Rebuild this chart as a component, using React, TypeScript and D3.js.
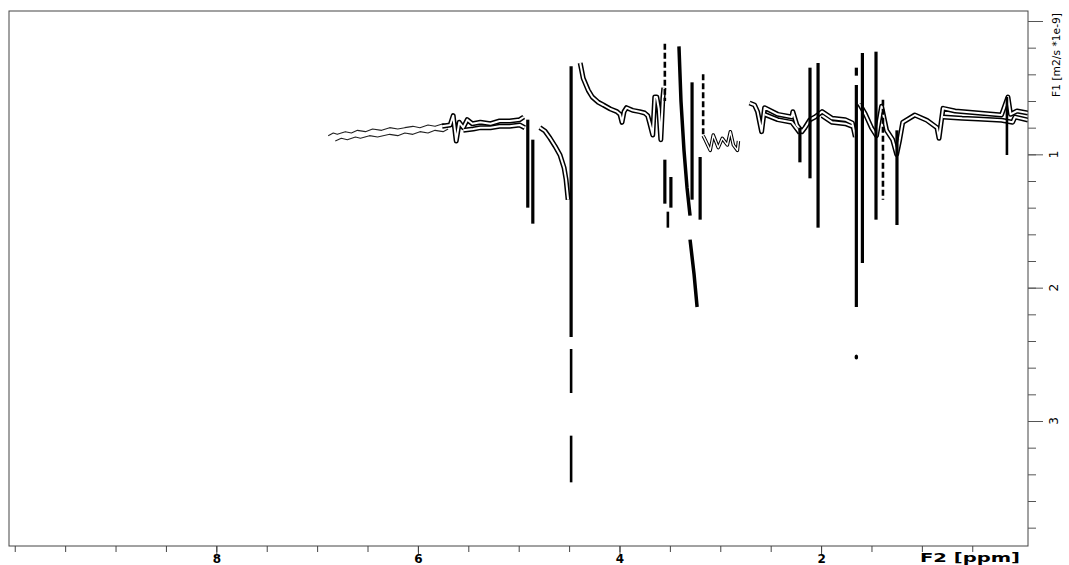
import React, { useRef, useEffect } from "react";
import * as d3 from "d3";

type Pt = [number, number];
type Streak = [number, number, number]; // ppm, D from, D to

// axis ticks
const xMajorTicks = [8, 6, 4, 2];
const yMajorTicks = [1, 2, 3];
const xTitle = "F2 [ppm]";
const yTitle = "F1 [m2/s *1e-9]";

// weak noisy contours on the left (ppm, D)
const faintUpper: Pt[] = [[6.89, 0.86], [6.84, 0.84], [6.80, 0.85], [6.72, 0.83], [6.66, 0.84], [6.60, 0.82], [6.52, 0.83], [6.45, 0.81], [6.36, 0.82], [6.28, 0.80], [6.20, 0.81], [6.13, 0.80], [6.05, 0.79], [5.98, 0.80], [5.90, 0.78], [5.83, 0.79], [5.75, 0.77], [5.70, 0.78]];
const faintLower: Pt[] = [[6.82, 0.90], [6.76, 0.88], [6.70, 0.89], [6.62, 0.87], [6.57, 0.88], [6.48, 0.86], [6.40, 0.87], [6.28, 0.85], [6.20, 0.86], [6.13, 0.84], [6.05, 0.85], [5.98, 0.83], [5.90, 0.84], [5.83, 0.82], [5.75, 0.83], [5.70, 0.81]];

// main ridge contours
const ridgeA: Pt[] = [[5.76, 0.79], [5.68, 0.78], [5.65, 0.71], [5.62, 0.90], [5.59, 0.76], [5.55, 0.80], [5.51, 0.74], [5.46, 0.77], [5.38, 0.76], [5.28, 0.77], [5.19, 0.75], [5.09, 0.75], [4.99, 0.74], [4.95, 0.72]];
const ridgeA2: Pt[] = [[5.55, 0.82], [5.45, 0.81], [5.38, 0.80], [5.28, 0.80], [5.19, 0.79], [5.09, 0.79], [4.99, 0.78], [4.94, 0.80]];
const curveB: Pt[] = [[4.79, 0.80], [4.74, 0.825], [4.69, 0.878], [4.64, 0.938], [4.59, 1.005], [4.55, 1.10], [4.53, 1.19], [4.51, 1.34]];
const curveC: Pt[] = [[4.39, 0.315], [4.36, 0.43], [4.31, 0.52], [4.27, 0.57], [4.21, 0.61], [4.16, 0.63], [4.09, 0.66], [4.025, 0.68], [3.995, 0.70], [3.975, 0.76], [3.955, 0.68], [3.93, 0.65], [3.87, 0.67], [3.80, 0.68], [3.75, 0.69], [3.72, 0.71], [3.70, 0.765], [3.67, 0.855], [3.65, 0.57], [3.63, 0.57], [3.61, 0.66], [3.59, 0.89], [3.57, 0.58], [3.56, 0.50]];
const noiseC: Pt[] = [[3.17, 0.86], [3.15, 0.89], [3.10, 0.97], [3.07, 0.855], [3.02, 0.95], [2.98, 0.88], [2.93, 0.93], [2.90, 0.83], [2.87, 0.93], [2.83, 0.97], [2.82, 0.90]];
const ridgeD: Pt[] = [[2.71, 0.615], [2.66, 0.63], [2.63, 0.68], [2.59, 0.83], [2.56, 0.65], [2.43, 0.70], [2.29, 0.72], [2.28, 0.68], [2.24, 0.78], [2.19, 0.83], [2.16, 0.80], [2.11, 0.74], [2.06, 0.72], [1.99, 0.68], [1.89, 0.73], [1.76, 0.74], [1.69, 0.765], [1.66, 0.87]];
const ridgeD2: Pt[] = [[2.56, 0.70], [2.43, 0.74], [2.29, 0.76], [2.21, 0.84]];
const ridgeD3: Pt[] = [[1.99, 0.71], [1.89, 0.76], [1.76, 0.77], [1.69, 0.79]];
const ridgeE: Pt[] = [[1.62, 0.62], [1.56, 0.70], [1.50, 0.80], [1.45, 0.86], [1.40, 0.64], [1.35, 0.82], [1.29, 0.89], [1.25, 1.0], [1.22, 0.89], [1.19, 0.76], [1.07, 0.705], [0.95, 0.745], [0.85, 0.80], [0.83, 0.88], [0.79, 0.655], [0.67, 0.675], [0.44, 0.69], [0.21, 0.705], [0.146, 0.57], [0.12, 0.70], [0.056, 0.675], [-0.053, 0.69]];
const ridgeE2: Pt[] = [[0.79, 0.72], [0.60, 0.73], [0.44, 0.735], [0.21, 0.745], [0.10, 0.76], [0.076, 0.72], [-0.053, 0.743]];

// slanted strong streaks
const slantA: Pt[] = [[3.41, 0.19], [3.39, 0.60], [3.36, 0.97], [3.33, 1.25], [3.30, 1.46]];
const slantB: Pt[] = [[3.30, 1.64], [3.26, 1.90], [3.23, 2.145]];

// vertical streaks
const heavyStreaks: Streak[] = [
  [4.91, 0.74, 1.40], [4.86, 0.89, 1.52], [4.48, 0.34, 2.37],
  [3.55, 1.04, 1.37], [3.49, 1.17, 1.40], [3.28, 0.46, 1.34], [3.20, 1.02, 1.49],
  [2.21, 0.80, 1.06], [2.11, 0.35, 1.18], [2.03, 0.315, 1.55],
  [1.65, 0.35, 0.41], [1.65, 0.48, 2.145], [1.59, 0.24, 1.815], [1.455, 0.23, 1.49],
  [1.247, 0.82, 1.53],
];
const thinStreaks: Streak[] = [[4.48, 2.46, 2.79], [4.48, 3.11, 3.46], [3.52, 1.43, 1.55], [0.156, 0.57, 1.005]];
const dashedStreaks: Streak[] = [[3.55, 0.17, 0.60], [3.17, 0.40, 0.86], [1.386, 0.59, 1.34]];
const dots: Pt[] = [[1.65, 2.52]];

const contourLines = [ridgeA, ridgeA2, curveB, curveC, ridgeD, ridgeD2, ridgeD3, ridgeE, ridgeE2];

export default function App() {
  const svgRef = useRef<SVGSVGElement>(null);

  useEffect(() => {
    const svg = d3.select(svgRef.current);
    svg.selectAll("*").remove();

    const left = 9, right = 1028, top = 11, bottom = 546;
    const x = d3.scaleLinear().domain([10.057, -0.053]).range([left, right]);
    const y = d3.scaleLinear().domain([-0.075, 3.9375]).range([top, bottom]);
    const line = d3.line<Pt>().x(d => x(d[0])).y(d => y(d[1]));

    svg.append("defs").append("clipPath").attr("id", "plotclip")
      .append("rect").attr("x", left).attr("y", top).attr("width", right - left).attr("height", bottom - top);

    const g = svg.append("g").attr("clip-path", "url(#plotclip)");

    // faint contours
    [faintUpper, faintLower].forEach(l => {
      g.append("path").attr("d", line(l)).attr("fill", "none")
        .attr("stroke", "#222").attr("stroke-width", 1.1).attr("stroke-linejoin", "round");
    });
    g.append("path").attr("d", line(noiseC)).attr("fill", "none")
      .attr("stroke", "#000").attr("stroke-width", 3.5).attr("stroke-linejoin", "round");
    g.append("path").attr("d", line(noiseC)).attr("fill", "none")
      .attr("stroke", "#fff").attr("stroke-width", 1.4).attr("stroke-linejoin", "round");

    // outlined contour rings: black body with white core
    contourLines.forEach(l => {
      g.append("path").attr("d", line(l)).attr("fill", "none")
        .attr("stroke", "#000").attr("stroke-width", 5).attr("stroke-linejoin", "round");
    });
    contourLines.forEach(l => {
      g.append("path").attr("d", line(l)).attr("fill", "none")
        .attr("stroke", "#fff").attr("stroke-width", 2).attr("stroke-linejoin", "round");
    });

    // strong streaks
    [slantA, slantB].forEach(l => {
      g.append("path").attr("d", line(l)).attr("fill", "none")
        .attr("stroke", "#000").attr("stroke-width", 3.5);
    });
    g.selectAll(".heavy").data(heavyStreaks).enter().append("line")
      .attr("x1", d => x(d[0])).attr("x2", d => x(d[0]))
      .attr("y1", d => y(d[1])).attr("y2", d => y(d[2]))
      .attr("stroke", "#000").attr("stroke-width", 3.2);
    g.selectAll(".thin").data(thinStreaks).enter().append("line")
      .attr("x1", d => x(d[0])).attr("x2", d => x(d[0]))
      .attr("y1", d => y(d[1])).attr("y2", d => y(d[2]))
      .attr("stroke", "#000").attr("stroke-width", 2.6);
    g.selectAll(".dashed").data(dashedStreaks).enter().append("line")
      .attr("x1", d => x(d[0])).attr("x2", d => x(d[0]))
      .attr("y1", d => y(d[1])).attr("y2", d => y(d[2]))
      .attr("stroke", "#000").attr("stroke-width", 2.6).attr("stroke-dasharray", "6 3");
    g.selectAll(".dot").data(dots).enter().append("ellipse")
      .attr("cx", d => x(d[0])).attr("cy", d => y(d[1])).attr("rx", 1.8).attr("ry", 2.5).attr("fill", "#000");

    // frame
    svg.append("rect").attr("x", left).attr("y", top).attr("width", right - left).attr("height", bottom - top)
      .attr("fill", "none").attr("stroke", "#444").attr("stroke-width", 1);

    // x axis
    const xMinor = d3.axisBottom(x).tickValues(d3.range(10, 0.25, -0.5)).tickSize(6).tickFormat(() => "");
    const xMajor = d3.axisBottom(x).tickValues(xMajorTicks).tickSize(8).tickPadding(0).tickFormat(d3.format("d"));
    [xMinor, xMajor].forEach(ax => {
      const a = svg.append("g").attr("transform", `translate(0,${bottom})`).call(ax as any);
      a.select(".domain").remove();
      a.selectAll("line").attr("stroke", "#444");
      a.selectAll("text").attr("font-family", "DejaVu Sans, sans-serif").attr("font-weight", "bold")
        .attr("font-size", 12).attr("fill", "#000");
    });
    svg.append("text").attr("x", 970).attr("y", 562).attr("text-anchor", "middle")
      .attr("font-family", "DejaVu Sans, sans-serif").attr("font-weight", "bold").attr("font-size", 12.5)
      .attr("textLength", 100).attr("lengthAdjust", "spacingAndGlyphs").text(xTitle);

    // y axis on the right
    const yMinor = d3.axisRight(y).tickValues(d3.range(0, 3.81, 0.2)).tickSize(8).tickFormat(() => "");
    const yMajor = d3.axisRight(y).tickValues([0, ...yMajorTicks]).tickSize(15).tickFormat(() => "");
    [yMinor, yMajor].forEach(ax => {
      const a = svg.append("g").attr("transform", `translate(${right},0)`).call(ax as any);
      a.select(".domain").remove();
      a.selectAll("line").attr("stroke", "#555");
    });
    svg.selectAll(".ylab").data(yMajorTicks).enter().append("text")
      .attr("transform", d => `translate(1058,${y(d)}) rotate(-90)`)
      .attr("text-anchor", "middle")
      .attr("font-family", "DejaVu Sans, sans-serif").attr("font-size", 12).attr("fill", "#000")
      .text(d => String(d));
    svg.append("text").attr("transform", "translate(1060,55) rotate(-90)").attr("text-anchor", "middle")
      .attr("font-family", "DejaVu Sans, sans-serif").attr("font-size", 11)
      .attr("textLength", 84).attr("lengthAdjust", "spacingAndGlyphs").text(yTitle);
  }, []);

  return (
    <svg ref={svgRef} width={1069} height={565}
      style={{ position: "absolute", left: 0, top: 0, background: "#fff", display: "block" }} />
  );
}
